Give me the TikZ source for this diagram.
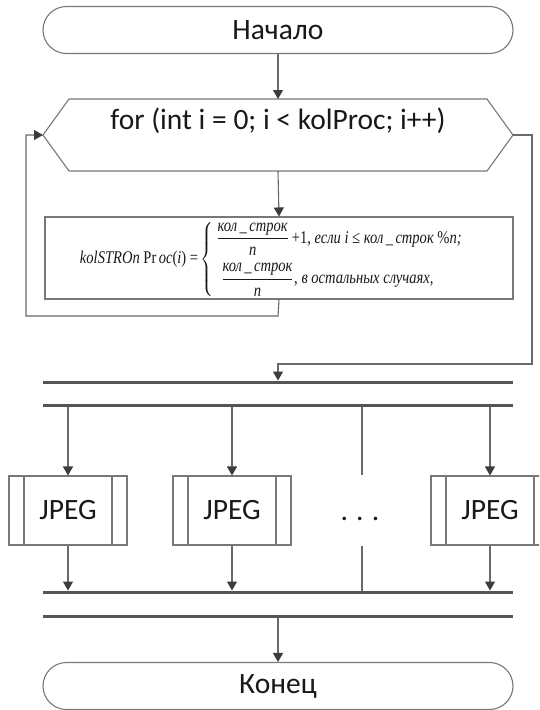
\documentclass[tikz,border=0pt]{standalone}
\usepackage{fontspec}
\usepackage{amsmath}
\usepackage{graphicx}
\setmainfont{Carlito}
\newfontfamily\tnr{Liberation Serif}
\usetikzlibrary{shapes.misc,arrows.meta,calc}
\definecolor{linecol}{RGB}{105,105,105}
\definecolor{headcol}{RGB}{60,60,60}
\definecolor{barcol}{RGB}{85,85,85}
\definecolor{boxcol}{RGB}{120,120,120}
\definecolor{txtcol}{RGB}{25,25,25}
\newcommand{\lblfont}{\fontsize{29.5pt}{35pt}\selectfont}
\newcommand{\kst}{\mbox{\tnr\itshape кол\,\_\,строк}}
\tikzset{
  conn/.style={draw=linecol, line width=1.1pt},
  arr/.style={conn, -{Triangle[length=9pt,width=10pt,color=headcol]}},
  term/.style={rounded rectangle, draw=boxcol, line width=1.1pt, minimum width=470pt, minimum height=47pt, inner sep=0pt, font=\lblfont, text=txtcol},
  hexbox/.style={rectangle, draw=none, minimum width=470pt, minimum height=72pt, inner sep=0pt, outer sep=0pt},
  procbox/.style={rectangle, draw=boxcol, line width=1.1pt, minimum width=468pt, minimum height=82pt, inner sep=0pt},
  bar/.style={rectangle, fill=barcol, draw=none, minimum width=470pt, minimum height=3pt, inner sep=0pt, outer sep=0pt},
  lbl/.style={font=\lblfont, text=txtcol, inner sep=0pt},
  jpeg/.style={rectangle, draw=boxcol, line width=1.1pt, minimum width=118pt, minimum height=69pt, inner sep=0pt, font=\lblfont, text=txtcol,
    path picture={
      \draw[boxcol, line width=1.1pt] ([xshift=15pt]path picture bounding box.north west) -- ([xshift=15pt]path picture bounding box.south west);
      \draw[boxcol, line width=1.1pt] ([xshift=-15pt]path picture bounding box.north east) -- ([xshift=-15pt]path picture bounding box.south east);
    }},
}
\begin{document}
\begin{tikzpicture}[x=1pt,y=-1pt]
\useasboundingbox (0,0) rectangle (539,710);
\clip (0,0) rectangle (539,710);
\fill[white] (0,0) rectangle (539,710);

% start
\node[term] (start) at (278,30) {Начало};

% for loop hexagon
\node[hexbox] (hex) at (278,135) {};
\draw[draw=boxcol, line width=1.1pt] (hex.west) -- ([xshift=26pt]hex.north west) -- ([xshift=-26pt]hex.north east) -- (hex.east) -- ([xshift=-26pt]hex.south east) -- ([xshift=26pt]hex.south west) -- cycle;
\node[lbl] (hext) at (278,121) {for (int i = 0; i < kolProc; i++)};

% process box
\node[procbox] (proc) at (279,258) {};
\node[inner sep=0pt, font=\normalsize, text=txtcol] (formula) at (279,259.5) {\resizebox*{398pt}{75pt}{$\mbox{\tnr\itshape kolSTROn \upshape Pr\,\itshape oc\upshape(\itshape i\upshape) =}\begin{cases}\,\dfrac{\kst}{\mbox{\tnr\itshape n}}\mbox{\tnr\,+1, \itshape если i ≤ кол\,\_\,строк \upshape\%\itshape n;}\\[7pt]
\hspace{5pt}\dfrac{\kst}{\mbox{\tnr\itshape n}}\mbox{\tnr, \itshape в остальных случаях,}\end{cases}$}};

% bars
\node[bar] (b1) at (278,382) {};
\node[bar] (b2) at (278,405) {};
\node[bar] (b3) at (278,592) {};
\node[bar] (b4) at (278,616) {};

% JPEG boxes
\node[jpeg] (j1) at (68,510.5) {JPEG};
\node[jpeg] (j2) at (232,510.5) {JPEG};
\node[jpeg] (j3) at (490,510.5) {JPEG};
\node[lbl, anchor=base] (dots) at (360,520) {.\hspace{0.28em}.\hspace{0.28em}.};
\coordinate (d1) at (362,475);
\coordinate (d2) at (362,546);

% end
\node[term] (end) at (278,686) {Конец};

% connectors
\draw[arr] (start.south) -- (hex.north);
\draw[arr] (hex.south) -- (proc.north);
\coordinate (lp1) at (278,316);
\coordinate (lp2) at (26,316);
\coordinate (lp3) at (26,135);
\draw[arr] (proc.south) -- (lp1) -- (lp2) -- (lp3) -- (hex.west);
\coordinate (ex1) at (532,135);
\coordinate (ex2) at (532,364);
\coordinate (ex3) at (278,364);
\draw[arr] (hex.east) -- (ex1) -- (ex2) -- (ex3) -- (b1.north);

\draw[arr] (b2.south -| j1.north) -- (j1.north);
\draw[arr] (b2.south -| j2.north) -- (j2.north);
\draw[arr] (b2.south -| j3.north) -- (j3.north);
\draw[conn] (b2.south -| d1) -- (d1);
\draw[conn] (d2) -- (b3.north -| d2);
\draw[arr] (j1.south) -- (b3.north -| j1.south);
\draw[arr] (j2.south) -- (b3.north -| j2.south);
\draw[arr] (j3.south) -- (b3.north -| j3.south);
\draw[arr] (b4.south) -- (end.north);
\end{tikzpicture}
\end{document}
